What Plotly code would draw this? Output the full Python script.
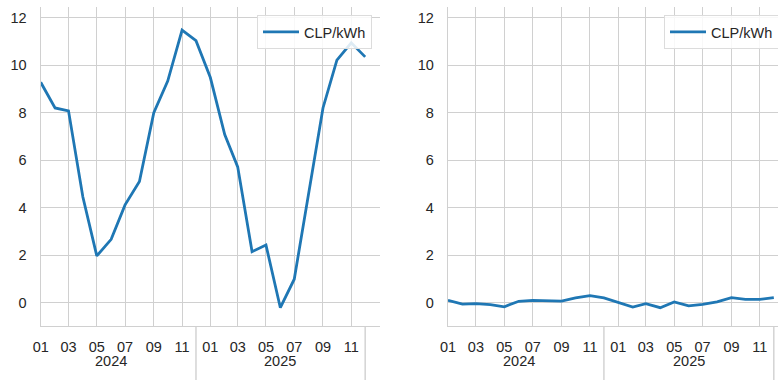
import plotly.graph_objects as go

months = ["2024-01-01", "2024-02-01", "2024-03-01", "2024-04-01", "2024-05-01", "2024-06-01",
          "2024-07-01", "2024-08-01", "2024-09-01", "2024-10-01", "2024-11-01", "2024-12-01",
          "2025-01-01", "2025-02-01", "2025-03-01", "2025-04-01", "2025-05-01", "2025-06-01",
          "2025-07-01", "2025-08-01", "2025-09-01", "2025-10-01", "2025-11-01", "2025-12-01"]

clp_left = [9.28, 8.2, 8.08, 4.45, 1.97, 2.67, 4.12, 5.1, 8.0, 9.33, 11.48, 11.03,
            9.48, 7.08, 5.72, 2.15, 2.43, -0.21, 0.99, 4.6, 8.2, 10.21, 10.94, 10.35]

clp_right = [0.10, -0.06, -0.04, -0.08, -0.17, 0.06, 0.10, 0.07, 0.07, 0.20, 0.30, 0.20,
             0.0, -0.18, -0.04, -0.21, 0.03, -0.13, -0.07, 0.04, 0.21, 0.14, 0.14, 0.21]

tick_vals = ["2024-01-01", "2024-03-01", "2024-05-01", "2024-07-01", "2024-09-01", "2024-11-01",
             "2025-01-01", "2025-03-01", "2025-05-01", "2025-07-01", "2025-09-01", "2025-11-01"]
tick_text = ["01", "03", "05", "07", "09", "11", "01", "03", "05", "07", "09", "11"]
year_labels = ["2024", "2025"]
year_centers = ["2024-06-01", "2025-06-01"]
year_dividers = ["2024-12-01", "2025-12-01"]

series_name = "CLP/kWh"
LINE = "#1f77b4"
GRID = "#d0d0d0"
TXT = "#262626"
FONT = "Liberation Sans, Arial, sans-serif"
FS = 14.5

W, H = 778, 380
y_dom = [(H - 326) / H, (H - 7) / H]
x1_dom = [40.7 / W, 380 / W]
x2_dom = [448 / W, 1.0]

fig = go.Figure()
fig.add_trace(go.Scatter(x=months, y=clp_left, mode="lines", name=series_name,
                         line=dict(color=LINE, width=2.8), xaxis="x", yaxis="y",
                         legend="legend"))
fig.add_trace(go.Scatter(x=months, y=clp_right, mode="lines", name=series_name,
                         line=dict(color=LINE, width=2.8), xaxis="x2", yaxis="y2",
                         legend="legend2"))

xcommon = dict(type="date", tickmode="array", tickvals=tick_vals, ticktext=tick_text,
               showgrid=True, gridcolor=GRID, gridwidth=1.4, showline=True,
               linecolor=GRID, linewidth=1.4, ticks="", ticklabelstandoff=7,
               tickfont=dict(size=FS, color=TXT, family=FONT), zeroline=False)
ycommon = dict(range=[-0.98, 12.45], tickmode="linear", tick0=0, dtick=2,
               showgrid=True, gridcolor=GRID, gridwidth=1.4, showline=True,
               linecolor=GRID, linewidth=1.4, ticks="", ticklabelstandoff=10,
               tickfont=dict(size=FS, color=TXT, family=FONT), zeroline=False,
               domain=y_dom)

legcommon = dict(bgcolor="rgba(255,255,255,0.85)", bordercolor="#dcdcdc", borderwidth=1,
                 font=dict(size=FS, color=TXT, family=FONT), xanchor="left",
                 yanchor="top", tracegroupgap=0, itemwidth=36, entrywidth=70)

fig.update_layout(
    width=W, height=H,
    margin=dict(l=0, r=0, t=0, b=0, autoexpand=False),
    paper_bgcolor="white", plot_bgcolor="white",
    font=dict(family=FONT, color=TXT),
    xaxis=dict(domain=x1_dom, range=["2024-01-01", "2026-01-02"], anchor="y", **xcommon),
    yaxis=dict(anchor="x", **ycommon),
    xaxis2=dict(domain=x2_dom, range=["2024-01-01", "2025-12-10"], anchor="y2", **xcommon),
    yaxis2=dict(anchor="x2", **ycommon),
    legend=dict(x=257 / W, y=(H - 15) / H, **legcommon),
    legend2=dict(x=664 / W, y=(H - 15) / H, **legcommon),
    showlegend=True,
)

for xa in ["x", "x2"]:
    for yl, yc in zip(year_labels, year_centers):
        fig.add_annotation(x=yc, y=(H - 361) / H, xref=xa, yref="paper", text=yl,
                           showarrow=False, yanchor="middle",
                           font=dict(size=FS, color=TXT, family=FONT))
    for d in year_dividers:
        fig.add_shape(type="line", x0=d, x1=d, xref=xa, y0=0, y1=y_dom[0], yref="paper",
                      line=dict(color=GRID, width=1.4))

fig.write_html("out.html", config={"displayModeBar": False},
               post_script="document.body.style.margin='0';")
